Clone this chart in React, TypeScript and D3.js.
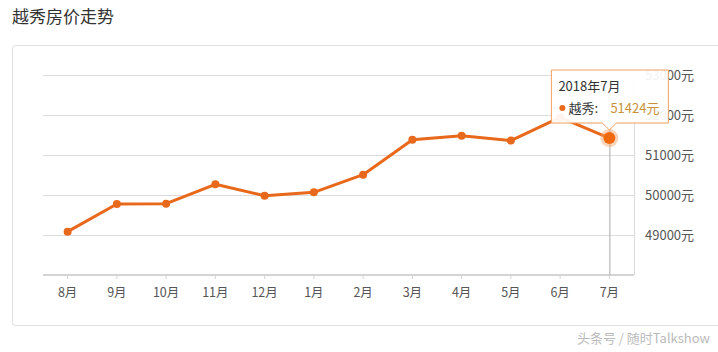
import React, { useMemo } from "react";
import * as d3 from "d3";

const months = ["8月", "9月", "10月", "11月", "12月", "1月", "2月", "3月", "4月", "5月", "6月", "7月"];
const prices = [49083, 49775, 49783, 50267, 49983, 50067, 50508, 51380, 51480, 51360, 51940, 51424];
const yTicks = [49000, 50000, 51000, 52000, 53000];
const seriesName = "越秀";
const tooltipTitle = "2018年7月";

const W = 718;
const H = 352;
const FONT = "'Noto Sans CJK SC', 'Noto Sans', sans-serif";
const ORANGE = "#e8691c";

export default function App() {
  const chart = useMemo(() => {
    const x = d3.scaleBand<string>().domain(months).range([43, 634]);
    const y = d3.scaleLinear().domain([48000, 53000]).range([275, 75]);
    const cx = (m: string) => (x(m) || 0) + x.bandwidth() / 2;
    const line = d3
      .line<number>()
      .x((_, i) => cx(months[i]))
      .y((d) => y(d));
    return { x, y, cx, path: line(prices) || "" };
  }, []);

  const { y, cx, path } = chart;
  const last = months.length - 1;
  const hx = cx(months[last]);
  const hy = y(prices[last]);

  // tooltip box
  const tipX = hx - 58;
  const tipY = 70;
  const tipW = 117;
  const tipH = 53;

  return (
    <div style={{ position: "absolute", left: 0, top: 0 }}>
      <svg width={W} height={H} style={{ display: "block", fontFamily: FONT }}>
        <rect width={W} height={H} fill="#fff" />
        {/* title */}
        <text x={12} y={23} fontSize={17} fill="#333">
          越秀房价走势
        </text>

        {/* panel */}
        <rect x={12.5} y={45.5} width={720} height={280} rx={3} fill="#fff" stroke="#dedede" />

        {/* grid + right axis labels */}
        {yTicks.map((t) => (
          <g key={t}>
            <line x1={43} x2={634} y1={Math.round(y(t)) + 0.5} y2={Math.round(y(t)) + 0.5} stroke="#dcdcdc" />
            <text x={645} y={y(t)} dy="0.35em" fontSize={13} fill="#555">
              {t}元
            </text>
          </g>
        ))}
        <line x1={634.5} x2={634.5} y1={y(53000)} y2={275} stroke="#dcdcdc" />

        {/* x axis */}
        <line x1={43} x2={634} y1={275} y2={275} stroke="#d4d4d4" strokeWidth={2} />
        {months.map((m) => (
          <g key={m}>
            <line x1={cx(m)} x2={cx(m)} y1={275} y2={279} stroke="#d4d4d4" />
            <text x={cx(m)} y={293} dy="0.35em" textAnchor="middle" fontSize={12.5} fill="#555">
              {m}
            </text>
          </g>
        ))}

        {/* crosshair */}
        <line x1={hx + 0.5} x2={hx + 0.5} y1={tipY + tipH} y2={275} stroke="#aaa" />

        {/* series */}
        <path d={path} fill="none" stroke={ORANGE} strokeWidth={3} strokeLinejoin="round" />
        {prices.map((v, i) =>
          i === last ? null : <circle key={i} cx={cx(months[i])} cy={y(v)} r={4} fill={ORANGE} />
        )}
        <circle cx={hx} cy={hy} r={9} fill="#f5a266" opacity={0.45} />
        <circle cx={hx} cy={hy} r={6} fill="#f26a10" />

        {/* tooltip */}
        <g>
          <path
            d={`M${tipX},${tipY} h${tipW} v${tipH} H${hx + 7} l-7,7 l-7,-7 H${tipX} Z`}
            fill="rgba(255,255,255,0.92)"
            stroke="#f0a060"
          />
          <text x={tipX + 7} y={tipY + 16} dy="0.35em" fontSize={13} fill="#333">
            {tooltipTitle}
          </text>
          <circle cx={tipX + 11} cy={tipY + 38} r={3} fill={ORANGE} />
          <text x={tipX + 17} y={tipY + 38} dy="0.35em" fontSize={13} fill="#333">
            {seriesName}:
          </text>
          <text x={tipX + 59} y={tipY + 38} dy="0.35em" fontSize={13} fill="#c9913a">
            {prices[last]}元
          </text>
        </g>

        {/* watermark */}
        <text x={710} y={338} dy="0.35em" textAnchor="end" fontSize={13} fill="#bbb">
          头条号 / 随时Talkshow
        </text>
      </svg>
    </div>
  );
}
